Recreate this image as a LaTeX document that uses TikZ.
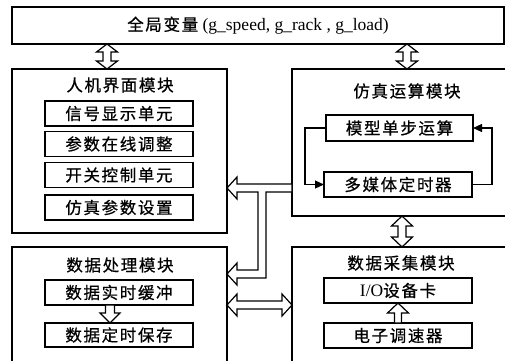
\documentclass[tikz,border=0pt]{standalone}
\usepackage{fontspec}
\setmainfont{Liberation Serif}
\newfontfamily\cjk[LetterSpace=10,FakeBold=0.6]{Noto Sans CJK SC}
\usetikzlibrary{arrows.meta,calc}
\tikzset{
  frame/.style={draw, line width=1.2pt, inner sep=0pt, outer sep=0pt},
  lbl/.style={inner sep=0pt, font=\fontsize{16.5}{18}\selectfont\cjk},
  hollow/.style={draw, fill=white, line width=1.2pt, line join=miter},
  loopline/.style={line width=1.2pt, -{Triangle[length=9pt,width=8pt]}}
}
\newcommand\vdbl[3]{\draw[hollow] let \p1=#1, \p2=#2 in (\p1) -- (\x1+10.5pt,\y1-#3) -- (\x1+4pt,\y1-#3) -- (\x1+4pt,\y2+#3) -- (\x1+10.5pt,\y2+#3) -- (\x1,\y2) -- (\x1-10.5pt,\y2+#3) -- (\x1-4pt,\y2+#3) -- (\x1-4pt,\y1-#3) -- (\x1-10.5pt,\y1-#3) -- cycle;}
\newcommand\hdbl[3]{\draw[hollow] let \p1=#1, \p2=#2 in (\p1) -- (\x1+#3,\y1+11pt) -- (\x1+#3,\y1+4pt) -- (\x2-#3,\y1+4pt) -- (\x2-#3,\y1+11pt) -- (\x2,\y1) -- (\x2-#3,\y1-11pt) -- (\x2-#3,\y1-4pt) -- (\x1+#3,\y1-4pt) -- (\x1+#3,\y1-11pt) -- cycle;}
\begin{document}
\begin{tikzpicture}[x=1pt,y=-1pt]
\useasboundingbox (0,0) rectangle (505,360);
\clip (0,0) rectangle (505,360);
% helper coordinates
\coordinate (c1) at (107,0);
\coordinate (c2) at (407,0);
\coordinate (c3) at (402,0);
\coordinate (c4) at (110,0);
\coordinate (c5) at (398,0);
\coordinate (ya) at (0,188);
\coordinate (yb) at (0,274);
\coordinate (yc) at (0,305);
\coordinate (bx) at (262,0);
\coordinate (lx) at (305,0);
\coordinate (rx) at (492,0);
% global variables
\node[frame, minimum width=492pt, minimum height=37pt, font=\fontsize{17.5}{20}\selectfont] (g) at (258,25.5) {{\fontsize{16.5}{18}\selectfont\cjk 全局变量} (g\_speed, g\_rack , g\_load)};
% HMI module
\node[frame, minimum width=215pt, minimum height=164pt] (hmi) at (119.5,151) {};
\node[lbl] (hmit) at (120,85) {人机界面模块};
\node[frame, lbl, minimum width=148pt, minimum height=25pt] (h1) at (119,113.5) {信号显示单元};
\node[frame, lbl, minimum width=148pt, minimum height=25pt] (h2) at (119,144) {参数在线调整};
\node[frame, lbl, minimum width=148pt, minimum height=25pt] (h3) at (119,175) {开关控制单元};
\node[frame, lbl, minimum width=148pt, minimum height=25pt] (h4) at (119,207.5) {仿真参数设置};
% simulation module
\node[frame, minimum width=220pt, minimum height=147pt] (sim) at (402,142.5) {};
\node[lbl] (simt) at (407,91) {仿真运算模块};
\node[frame, lbl, minimum width=147pt, minimum height=26pt] (m1) at (399.5,128) {模型单步运算};
\node[frame, lbl, minimum width=148pt, minimum height=25pt] (m2) at (398,184.5) {多媒体定时器};
% data processing module
\node[frame, minimum width=215pt, minimum height=123pt] (dp) at (119.5,308.5) {};
\node[lbl] (dpt) at (120,265) {数据处理模块};
\node[frame, lbl, minimum width=148pt, minimum height=25pt] (d1) at (119,292.5) {数据实时缓冲};
\node[frame, lbl, minimum width=148pt, minimum height=24pt] (d2) at (119,335) {数据定时保存};
% data acquisition module
\node[frame, minimum width=220pt, minimum height=123pt] (da) at (402,308.5) {};
\node[lbl] (dat) at (401,263) {数据采集模块};
\node[frame, lbl, minimum width=148pt, minimum height=25pt] (a1) at (398,290.5) {{\fontsize{17.5}{18}\rmfamily I/O}设备卡};
\node[frame, lbl, minimum width=148pt, minimum height=25pt] (a2) at (398,335.5) {电子调速器};
% loop in simulation module
\draw[loopline] (m1.west) -- (m1.west -| lx) -- (m2.west -| lx) -- (m2.west);
\draw[loopline] (m2.east) -- (m2.east -| rx) -- (m1.east -| rx) -- (m1.east);
% hollow double arrows
\vdbl{(g.south -| c1)}{(hmi.north -| c1)}{8pt}
\vdbl{(g.south -| c2)}{(sim.north -| c2)}{8pt}
\vdbl{(sim.south -| c3)}{(da.north -| c3)}{10pt}
\hdbl{(dp.east |- yc)}{(da.west |- yc)}{10pt}
% T-shaped connector from simulation to HMI and data processing
\draw[hollow] let \p1=(hmi.east |- ya), \p2=(sim.west |- ya), \p3=(dp.east |- yb), \p4=(bx) in
  (\p1) -- (\x1+10pt,\y1+11pt) -- (\x1+10pt,\y1+4pt) -- (\x2,\y1+4pt) -- (\x2,\y1-4pt)
  -- (\x4+4pt,\y1-4pt) -- (\x4+4pt,\y3-4pt) -- (\x1+10pt,\y3-4pt) -- (\x1+10pt,\y3-11pt)
  -- (\p3) -- (\x1+10pt,\y3+11pt) -- (\x1+10pt,\y3+4pt) -- (\x4-4pt,\y3+4pt)
  -- (\x4-4pt,\y1-4pt) -- (\x1+10pt,\y1-4pt) -- (\x1+10pt,\y1-11pt) -- cycle;
% single hollow arrows
\draw[hollow] let \p1=(d1.south -| c4), \p2=(d2.north -| c4) in
  (\x1-4.5pt,\y1) -- (\x1+4.5pt,\y1) -- (\x1+4.5pt,\y2+10pt) -- (\x1+10pt,\y2+10pt)
  -- (\p2) -- (\x1-10pt,\y2+10pt) -- (\x1-4.5pt,\y2+10pt) -- cycle;
\draw[hollow] let \p1=(a2.north -| c5), \p2=(a1.south -| c5) in
  (\x1-3.5pt,\y1) -- (\x1-3.5pt,\y2-10pt) -- (\x1-10.5pt,\y2-10pt) -- (\p2)
  -- (\x1+10.5pt,\y2-10pt) -- (\x1+3.5pt,\y2-10pt) -- (\x1+3.5pt,\y1) -- cycle;
\end{tikzpicture}
\end{document}
